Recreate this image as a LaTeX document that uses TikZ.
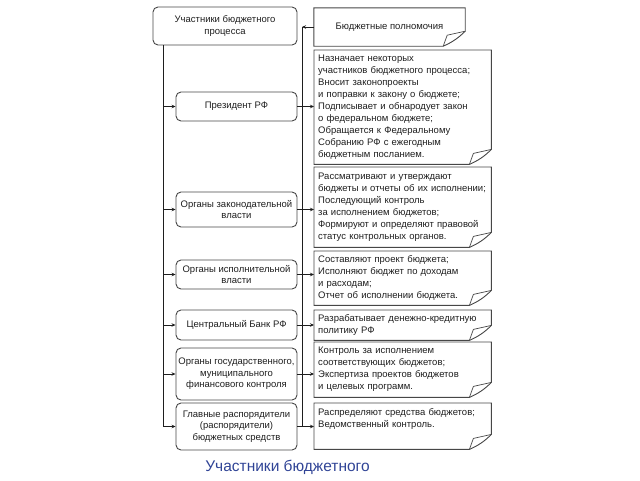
\documentclass[tikz,border=0pt]{standalone}
\usepackage{fontspec}
\setmainfont{Liberation Sans}
\usetikzlibrary{arrows.meta}

\definecolor{framegray}{RGB}{70,70,70}
\definecolor{inkgray}{RGB}{30,30,30}
\definecolor{capblue}{RGB}{48,68,150}

\tikzset{
    boxline/.style={draw=framegray, line width=0.9pt},
    member/.style={boxline, rounded corners=5pt, minimum width=121pt, inner sep=2pt,
        align=center, text=inkgray, font=\fontsize{9.5}{11.5}\selectfont},
    duty/.style={anchor=north west, minimum width=177pt, text width=169pt,
        inner xsep=4pt, inner ysep=0pt, align=left, text=inkgray,
        font=\fontsize{9.5}{12}\selectfont},
    arr/.style={draw=inkgray, line width=0.8pt, -{Stealth[length=4pt,width=3.5pt]}},
    bus/.style={draw=inkgray, line width=0.8pt},
}

% outline of a sheet with a curled lower right corner
\newcommand{\pageframe}[1]{%
    \draw[boxline] (#1.north west) -- (#1.north east) -- ([yshift=15pt]#1.south east)
        to[bend left=10] ([xshift=-22pt]#1.south east) -- (#1.south west) -- cycle;
    \draw[boxline, line width=0.7pt] ([xshift=-22pt]#1.south east)
        -- ([xshift=-18pt,yshift=11pt]#1.south east) -- ([yshift=15pt]#1.south east);
}

\begin{document}
\begin{tikzpicture}[x=1pt, y=-1pt]
    \useasboundingbox (0,0) rectangle (640,480);

    % Participants (left column)
    \node[member, minimum width=144pt, minimum height=38pt] (root) at (225,26) {Участники бюджетного\\процесса};
    \node[member, minimum height=29pt] (pres) at (236.5,106.5) {Президент РФ};
    \node[member, minimum height=35pt] (leg) at (236.5,209.5) {Органы законодательной\\власти};
    \node[member, minimum height=29pt] (exec) at (236.5,274.5) {Органы исполнительной\\власти};
    \node[member, minimum height=30pt] (cb) at (236.5,325) {Центральный Банк РФ};
    \node[member, minimum height=52pt] (fin) at (236.5,374) {Органы государственного,\\муниципального\\финансового контроля};
    \node[member, minimum height=47pt] (chief) at (236.5,426.5) {Главные распорядители\\(распорядители)\\бюджетных средств};

    % Powers (right column)
    \node[minimum width=151pt, minimum height=38pt, text=inkgray, font=\fontsize{9.5}{12}\selectfont] (head) at (389.5,27) {Бюджетные полномочия};
    \node[duty, minimum height=114pt] (d1) at (314,50) {Назначает некоторых\\участников бюджетного процесса;\\Вносит законопроекты\\и поправки к закону о бюджете;\\Подписывает и обнародует закон\\о федеральном бюджете;\\Обращается к Федеральному\\Собранию РФ с ежегодным\\бюджетным посланием.};
    \node[duty, minimum height=80pt] (d2) at (314,167) {Рассматривают и утверждают\\бюджеты и отчеты об их исполнении;\\Последующий контроль\\за исполнением бюджетов;\\Формируют и определяют правовой\\статус контрольных органов.};
    \node[duty, minimum height=54pt] (d3) at (314,251) {Составляют проект бюджета;\\Исполняют бюджет по доходам\\и расходам;\\Отчет об исполнении бюджета.};
    \node[duty, minimum height=30pt] (d4) at (314,310) {Разрабатывает денежно-кредитную\\политику РФ};
    \node[duty, minimum height=55pt] (d5) at (314,342) {Контроль за исполнением\\соответствующих бюджетов;\\Экспертиза проектов бюджетов\\и целевых программ.};
    \node[duty, minimum height=46pt] (d6) at (314,403) {Распределяют средства бюджетов;\\Ведомственный контроль.\\\strut};
    \foreach \d in {head,d1,d2,d3,d4,d5,d6} {
        \pageframe{\d}
    }

    % Left bus
    \coordinate (lbus) at (163,426.5);
    \draw[bus] (root.south -| lbus) -- (lbus);
    \draw[arr] (lbus) -- (chief.west);
    \foreach \n in {pres,leg,exec,cb,fin} {
        \draw[arr] (lbus |- \n.west) -- (\n.west);
    }

    % Right bus
    \coordinate (rbus) at (302,426.5);
    \draw[arr] (head.west) -- (head.west -| rbus);
    \draw[bus] (head.west -| rbus) -- (rbus);
    \foreach \n/\d in {pres/d1,leg/d2,exec/d3,cb/d4,fin/d5,chief/d6} {
        \draw[arr] (\n.east) -- (\n.east -| \d.west);
    }

    % Caption
    \node[text=capblue, font=\fontsize{15.5}{18}\selectfont] (caption) at (287.5,467) {Участники бюджетного};
\end{tikzpicture}
\end{document}
